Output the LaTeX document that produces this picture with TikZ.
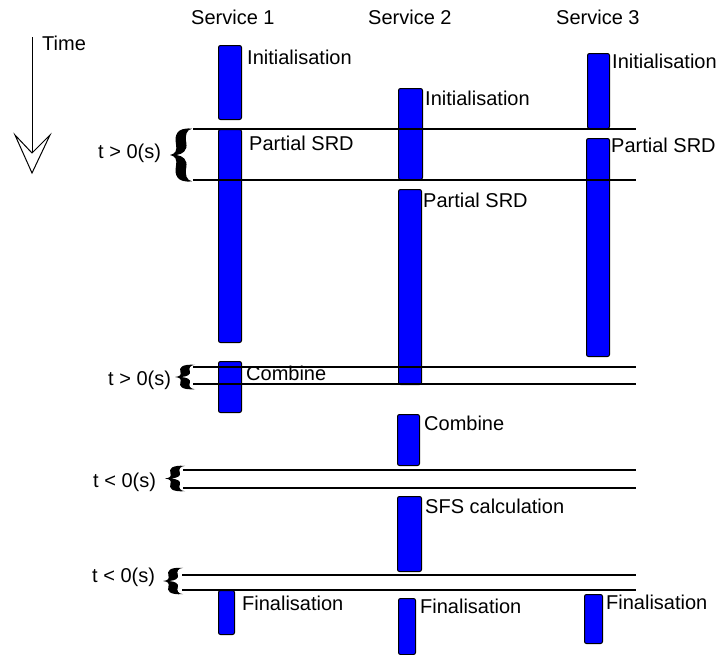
\documentclass[tikz,border=0pt]{standalone}
\usepackage{fontspec}
\setmainfont{Liberation Sans}
\begin{document}
\begin{tikzpicture}[x=1pt,y=-1pt,
  actbox/.style={draw=black, fill=blue, line width=1pt, rounded corners=2pt,
    inner sep=0pt, anchor=north west},
  lbl/.style={font=\fontsize{20}{23}\selectfont, inner sep=0pt, anchor=base west},
  period/.style={line width=1.3pt, black},
  curlybrace/.pic={
    \fill[black] (1,0.03) .. controls (0.3,0) and (0.2,0.15) .. (0.27,0.3)
      .. controls (0.33,0.42) and (0.25,0.48) .. (0,0.5)
      .. controls (0.25,0.52) and (0.33,0.58) .. (0.27,0.7)
      .. controls (0.2,0.85) and (0.3,1) .. (1,0.97)
      .. controls (0.74,0.95) and (0.68,0.85) .. (0.74,0.72)
      .. controls (0.8,0.58) and (0.6,0.52) .. (0.3,0.5)
      .. controls (0.6,0.48) and (0.8,0.42) .. (0.74,0.28)
      .. controls (0.68,0.15) and (0.74,0.05) .. (1,0.03) -- cycle;
  }]
\useasboundingbox (0,0) rectangle (719,654);

% service headings
\node[lbl] (h1) at (191,24) {Service 1};
\node[lbl] (h2) at (368,24) {Service 2};
\node[lbl] (h3) at (556,24) {Service 3};

% time axis
\node[lbl] (tlbl) at (42,50) {Time};
\coordinate (tstart) at (32,37);
\coordinate (tnotch) at (32,153);
\draw[line width=1pt] (tstart) -- (tnotch);
\draw[line width=1pt, fill=white, line join=miter] (tnotch) -- (15,135) -- (32,173) -- (50,135) -- cycle;

% activity bars, service 1
\node[actbox, minimum width=23, minimum height=74] (s1init) at (218,45) {};
\node[actbox, minimum width=23, minimum height=213] (s1srd) at (218,129) {};
\node[actbox, minimum width=23, minimum height=51] (s1comb) at (218,361) {};
\node[actbox, minimum width=16, minimum height=44] (s1fin) at (218,590) {};
% service 2
\node[actbox, minimum width=24, minimum height=91] (s2init) at (398,88) {};
\node[actbox, minimum width=23, minimum height=195] (s2srd) at (398,189) {};
\node[actbox, minimum width=22, minimum height=51] (s2comb) at (397,414) {};
\node[actbox, minimum width=24, minimum height=75] (s2sfs) at (397,496) {};
\node[actbox, minimum width=17, minimum height=56] (s2fin) at (398,598) {};
% service 3
\node[actbox, minimum width=22, minimum height=75] (s3init) at (587,53) {};
\node[actbox, minimum width=23, minimum height=218] (s3srd) at (586,138) {};
\node[actbox, minimum width=18, minimum height=49] (s3fin) at (584,594) {};

% bar labels
\node[lbl] (l1a) at (247,64) {Initialisation};
\node[lbl] (l1b) at (249,150) {Partial SRD};
\node[lbl] (l1c) at (246,380) {Combine};
\node[lbl] (l1d) at (242,610) {Finalisation};
\node[lbl] (l2a) at (425,105) {Initialisation};
\node[lbl] (l2b) at (423,207) {Partial SRD};
\node[lbl] (l2c) at (424,430) {Combine};
\node[lbl] (l2d) at (425,513) {SFS calculation};
\node[lbl] (l2e) at (420,613) {Finalisation};
\node[lbl] (l3a) at (612,68) {Initialisation};
\node[lbl] (l3b) at (611,152) {Partial SRD};
\node[lbl] (l3c) at (606,609) {Finalisation};

% synchronisation lines
\coordinate (p1a) at (193,129); \coordinate (p1b) at (636,129);
\coordinate (p2a) at (193,180); \coordinate (p2b) at (636,180);
\coordinate (p3a) at (193,367); \coordinate (p3b) at (636,367);
\coordinate (p4a) at (193,384); \coordinate (p4b) at (636,384);
\coordinate (p5a) at (183,470); \coordinate (p5b) at (636,470);
\coordinate (p6a) at (183,488); \coordinate (p6b) at (636,488);
\coordinate (p7a) at (182,575); \coordinate (p7b) at (636,575);
\coordinate (p8a) at (182,590); \coordinate (p8b) at (636,590);
\foreach \i in {1,...,8} { \draw[period] (p\i a) -- (p\i b); }

% braces and their durations
\pic[xscale=22, yscale=56] at (170,127) {curlybrace};
\pic[xscale=20, yscale=26] at (175,364) {curlybrace};
\pic[xscale=20, yscale=27] at (165,465) {curlybrace};
\pic[xscale=20, yscale=28] at (163,567) {curlybrace};
\node[lbl] (d1) at (98,158) {t > 0(s)};
\node[lbl] (d2) at (108,385) {t > 0(s)};
\node[lbl] (d3) at (93,487) {t < 0(s)};
\node[lbl] (d4) at (92,582) {t < 0(s)};
\end{tikzpicture}
\end{document}
